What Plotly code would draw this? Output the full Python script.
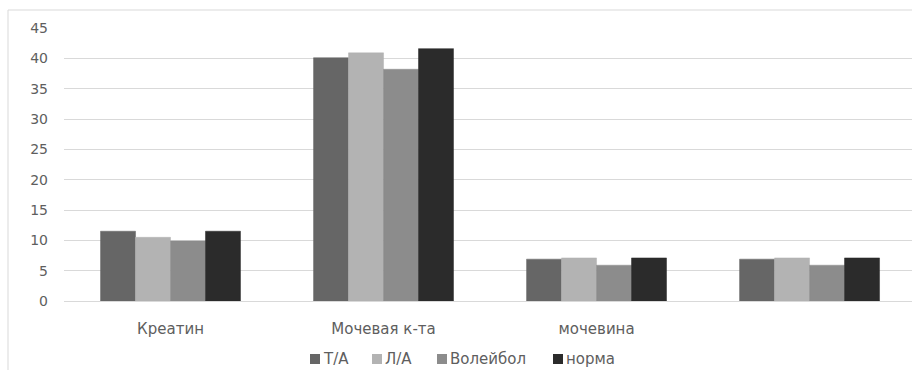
import plotly.graph_objects as go

categories = ["Креатин", "Мочевая к-та", "мочевина", " "]
series_names = ["Т/А", "Л/А", "Волейбол", "норма"]
ta = [11.5, 40.1, 6.9, 6.9]
la = [10.5, 40.9, 7.1, 7.1]
voleibol = [9.9, 38.2, 5.9, 5.9]
norma = [11.5, 41.6, 7.1, 7.1]
y_ticks = [0, 5, 10, 15, 20, 25, 30, 35, 40, 45]

colors = ["#666666", "#b3b3b3", "#8c8c8c", "#2b2b2b"]
values = [ta, la, voleibol, norma]
text_color = "#5e5e5e"
font_family = "DejaVu Sans"

W, H = 912, 370
ml, mt, mb = 64, 28, 69
plot_w, plot_h = W - ml, H - mt - mb


def px_x(px):
    return (px - ml) / plot_w


def px_y(py):
    return (H - mb - py) / plot_h


fig = go.Figure()
for name, vals, col in zip(series_names, values, colors):
    fig.add_trace(go.Bar(
        x=categories, y=vals, name=name,
        marker=dict(color=col, line=dict(color=col, width=0.5)),
    ))

# Legend drawn as swatches + labels centred under the plot
legend_square_x = [310, 372, 437, 553]
shapes = [dict(type="rect", xref="paper", yref="paper",
               x0=px_x(8), x1=1.02, y0=-0.4, y1=px_y(10),
               line=dict(color="#d9d9d9", width=1), fillcolor="rgba(0,0,0,0)",
               layer="below")]
annotations = []
for sx, name, col in zip(legend_square_x, series_names, colors):
    shapes.append(dict(type="rect", xref="paper", yref="paper",
                       x0=px_x(sx), x1=px_x(sx + 10), y0=px_y(364), y1=px_y(354),
                       line=dict(width=0), fillcolor=col))
    annotations.append(dict(x=px_x(sx + 11), y=px_y(358.5), xref="paper", yref="paper",
                            text=name, showarrow=False, xanchor="left", yanchor="middle",
                            font=dict(family=font_family, size=15, color=text_color)))

fig.update_layout(
    width=W, height=H,
    margin=dict(l=ml, r=0, t=mt, b=mb),
    paper_bgcolor="white", plot_bgcolor="white",
    barmode="group", bargap=0.343, bargroupgap=0,
    font=dict(family=font_family, size=15, color=text_color),
    showlegend=False,
    xaxis=dict(range=[-0.5, 3.481], showgrid=False, showline=False, ticks="",
               tickfont=dict(size=15, color=text_color), ticklabelstandoff=17),
    yaxis=dict(range=[0, 45], tickvals=y_ticks, showgrid=True, gridcolor="#d9d9d9",
               gridwidth=1, zeroline=True, zerolinecolor="#d9d9d9", zerolinewidth=1,
               showline=False, ticks="", tickfont=dict(size=14, color=text_color),
               ticklabelstandoff=15),
    shapes=shapes,
    annotations=annotations,
)

fig.write_html("out.html")
